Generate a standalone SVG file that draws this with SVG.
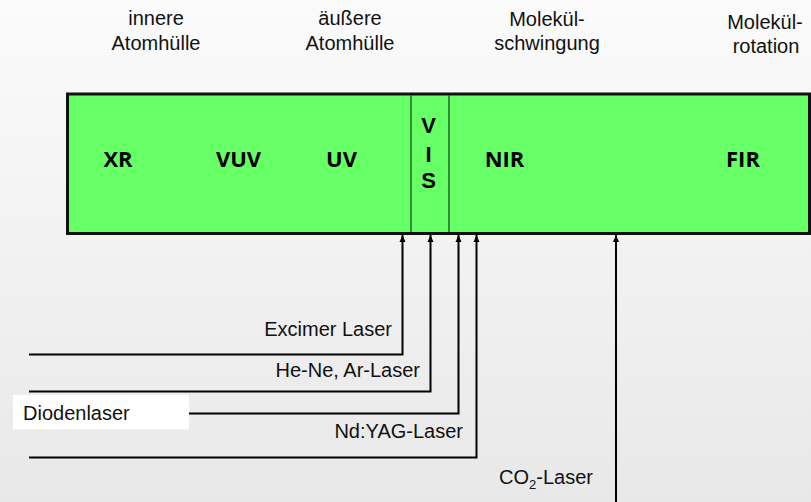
<svg xmlns="http://www.w3.org/2000/svg" width="811" height="502" viewBox="0 0 811 502">
  <defs>
    <linearGradient id="bg" x1="0" y1="0" x2="0" y2="1">
      <stop offset="0" stop-color="#fbfbfb"/>
      <stop offset="1" stop-color="#e8e8e8"/>
    </linearGradient>
    <marker id="arr" markerUnits="userSpaceOnUse" markerWidth="8" markerHeight="8" refX="7" refY="4" orient="auto">
      <path d="M0,1 L7,4 L0,7 Z" fill="#000"/>
    </marker>
    <style>
      .top { font-family: "Liberation Sans", Arial, sans-serif; font-size: 20px; fill: #111; text-anchor: middle; }
      .band { font-family: "Open Sans", "DejaVu Sans", sans-serif; font-size: 22px; font-weight: 700; fill: #000; text-anchor: middle; }
      .vis { font-family: "Liberation Sans", Arial, sans-serif; font-size: 22px; font-weight: 700; fill: #000; text-anchor: middle; }
      .lbl { font-family: "Liberation Sans", Arial, sans-serif; font-size: 20px; fill: #111; }
      .conn { fill: none; stroke: #000; stroke-width: 2; marker-end: url(#arr); }
    </style>
  </defs>
  <rect x="0" y="0" width="811" height="502" fill="url(#bg)"/>

  <g id="headers">
    <text class="top" x="156" y="25">innere</text>
    <text class="top" x="156" y="50">Atomhülle</text>
    <text class="top" x="350" y="25">äußere</text>
    <text class="top" x="350" y="50">Atomhülle</text>
    <text class="top" x="547" y="26">Molekül-</text>
    <text class="top" x="547" y="50">schwingung</text>
    <text class="top" x="765" y="29">Molekül-</text>
    <text class="top" x="766" y="53">rotation</text>
  </g>

  <g id="spectrum">
    <rect x="67.5" y="94" width="742" height="139.5" fill="#66ff66" stroke="#111" stroke-width="3"/>
    <line x1="411" y1="95.5" x2="411" y2="232" stroke="#1c3a1c" stroke-width="1.2"/>
    <line x1="449" y1="95.5" x2="449" y2="232" stroke="#1c3a1c" stroke-width="1.2"/>
    <text class="band" x="118" y="167">XR</text>
    <text class="band" x="238.5" y="167">VUV</text>
    <text class="band" x="341.5" y="167">UV</text>
    <text class="vis"><tspan x="428.5" y="133">V</tspan><tspan x="428.5" y="161.5">I</tspan><tspan x="428.5" y="188">S</tspan></text>
    <text class="band" x="504.5" y="167">NIR</text>
    <text class="band" x="743" y="167">FIR</text>
  </g>

  <g id="connectors">
    <polyline class="conn" points="29,354.5 402.5,354.5 402.5,235"/>
    <polyline class="conn" points="29,391.5 430.5,391.5 430.5,235"/>
    <polyline class="conn" points="189,413.5 458.5,413.5 458.5,235"/>
    <polyline class="conn" points="29,457.5 476.5,457.5 476.5,235"/>
    <polyline class="conn" points="616,502 616,235"/>
  </g>

  <g id="excimer"><text class="lbl" x="392" y="336" text-anchor="end">Excimer Laser</text></g>
  <g id="hene"><text class="lbl" x="420" y="377" text-anchor="end">He-Ne, Ar-Laser</text></g>
  <g id="diodenlaser">
    <rect x="13" y="395" width="176" height="34.5" fill="#ffffff"/>
    <text class="lbl" x="23" y="419.5">Diodenlaser</text>
  </g>
  <g id="ndyag"><text class="lbl" x="463" y="437.5" text-anchor="end">Nd:YAG-Laser</text></g>
  <g id="co2"><text class="lbl" x="593" y="484" text-anchor="end">CO<tspan font-size="13" dy="5">2</tspan><tspan dy="-5">-Laser</tspan></text></g>
</svg>
